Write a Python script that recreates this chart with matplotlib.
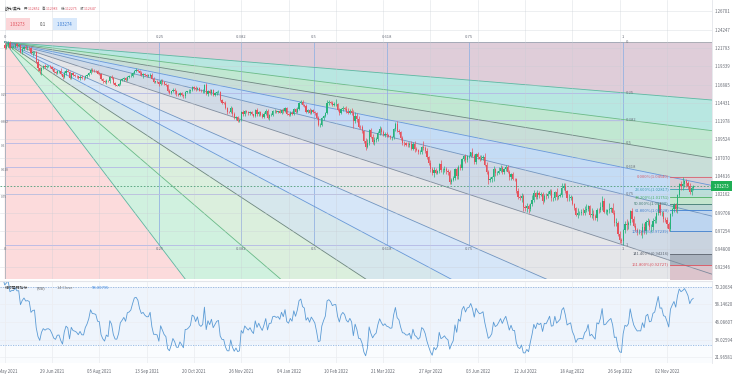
import numpy as np
import pandas as pd
import matplotlib
matplotlib.use("Agg")
import matplotlib.pyplot as plt
from matplotlib.patches import Polygon

plt.rcParams['font.family'] = ['Noto Sans CJK SC', 'DejaVu Sans']

# ---- data: EUR/USD daily, weekdays from 21 May 2021 ----
first_day = '2021-05-21'
# closes before the first shown bar (only used to start the RSI)
warmup_closes = [1.2014, 1.2097, 1.2083, 1.2090, 1.2127, 1.2125, 1.2020, 1.2062, 1.2015, 1.2004, 1.2065,
                 1.2163, 1.2132, 1.2149, 1.2072, 1.2080, 1.2145, 1.2153, 1.2224, 1.2175, 1.2225]
closes = [
    1.2178, 1.2213, 1.2250, 1.2177, 1.2193, 1.2193, 1.2228,
    1.2211, 1.2212, 1.2125, 1.2167, 1.2193, 1.2174, 1.2178, 1.2173, 1.2107, 1.2121, 1.2124, 1.1996, 1.1909, 1.1864, 1.1916, 1.1941, 1.1926, 1.1934, 1.1935, 1.1925, 1.1895, 1.1857,
    1.1846, 1.1865, 1.1866, 1.1823, 1.1791, 1.1845, 1.1875, 1.1863, 1.1776, 1.1838, 1.1812, 1.1807, 1.1799, 1.1780, 1.1795, 1.1771, 1.1770, 1.1801, 1.1817, 1.1842, 1.1888, 1.1870,
    1.1869, 1.1866, 1.1835, 1.1833, 1.1762, 1.1734, 1.1718, 1.1740, 1.1730, 1.1795, 1.1776, 1.1711, 1.1676, 1.1675, 1.1697, 1.1746, 1.1758, 1.1772, 1.1752, 1.1794, 1.1798, 1.1808,
    1.1842, 1.1876, 1.1880, 1.1870, 1.1838, 1.1818, 1.1823, 1.1812, 1.1806, 1.1806, 1.1822, 1.1766, 1.1727, 1.1727, 1.1724, 1.1690, 1.1741, 1.1719, 1.1695, 1.1683, 1.1597, 1.1578,
    1.1596, 1.1620, 1.1598, 1.1555, 1.1553, 1.1571, 1.1552, 1.1528, 1.1594, 1.1595, 1.1601, 1.1610, 1.1652, 1.1647, 1.1624, 1.1643, 1.1607, 1.1599, 1.1606, 1.1681, 1.1558,
    1.1606, 1.1580, 1.1610, 1.1552, 1.1569, 1.1587, 1.1592, 1.1477, 1.1445, 1.1444, 1.1367, 1.1320, 1.1319, 1.1370, 1.1289, 1.1235, 1.1251, 1.1203, 1.1207, 1.1318, 1.1291, 1.1338,
    1.1319, 1.1302, 1.1316, 1.1287, 1.1268, 1.1342, 1.1290, 1.1316, 1.1284, 1.1258, 1.1290, 1.1330, 1.1239, 1.1282, 1.1283, 1.1327, 1.1330, 1.1322, 1.1327, 1.1311, 1.1352, 1.1327, 1.1370,
    1.1297, 1.1286, 1.1313, 1.1296, 1.1359, 1.1326, 1.1366, 1.1440, 1.1454, 1.1412, 1.1404, 1.1326, 1.1343, 1.1311, 1.1343, 1.1325, 1.1304, 1.1242, 1.1143, 1.1147, 1.1234,
    1.1271, 1.1303, 1.1441, 1.1454, 1.1441, 1.1415, 1.1423, 1.1424, 1.1349, 1.1306, 1.1357, 1.1375, 1.1361, 1.1321, 1.1308, 1.1331, 1.1307, 1.1195, 1.1268, 1.1220,
    1.1124, 1.1120, 1.1063, 1.0930, 1.0855, 1.0904, 1.1076, 1.0985, 1.0914, 1.0941, 1.0956, 1.1035, 1.1094, 1.1049, 1.1015, 1.1031, 1.1005, 1.0998, 1.0983, 1.0985, 1.1087, 1.1158, 1.1067,
    1.1047, 1.0970, 1.0904, 1.0900, 1.0878, 1.0877, 1.0888, 1.0826, 1.0890, 1.0826, 1.0808, 1.0780, 1.0790, 1.0852, 1.0838, 1.0797, 1.0714, 1.0640, 1.0558, 1.0497, 1.0545,
    1.0506, 1.0525, 1.0622, 1.0540, 1.0548, 1.0560, 1.0529, 1.0513, 1.0381, 1.0412, 1.0435, 1.0552, 1.0465, 1.0587, 1.0563, 1.0692, 1.0733, 1.0676, 1.0725, 1.0733, 1.0779, 1.0733,
    1.0650, 1.0750, 1.0718, 1.0696, 1.0703, 1.0716, 1.0615, 1.0519, 1.0409, 1.0422, 1.0446, 1.0550, 1.0497, 1.0508, 1.0535, 1.0568, 1.0520, 1.0555, 1.0582, 1.0520, 1.0443, 1.0482,
    1.0426, 1.0424, 1.0266, 1.0183, 1.0162, 1.0187, 1.0040, 1.0037, 1.0061, 1.0018, 1.0082, 1.0143, 1.0229, 1.0178, 1.0229, 1.0211, 1.0223, 1.0130, 1.0200, 1.0195, 1.0225,
    1.0261, 1.0162, 1.0166, 1.0247, 1.0179, 1.0195, 1.0212, 1.0298, 1.0321, 1.0259, 1.0160, 1.0171, 1.0178, 1.0087, 1.0038, 0.9943, 0.9968, 0.9970, 0.9972, 0.9964, 1.0002, 1.0015, 1.0054,
    0.9945, 0.9955, 0.9928, 0.9904, 1.0010, 1.0000, 1.0040, 1.0122, 0.9975, 0.9980, 0.9999, 1.0014, 1.0026, 0.9970, 0.9835, 0.9838, 0.9690, 0.9607, 0.9593, 0.9736, 0.9814, 0.9802,
    0.9826, 0.9988, 0.9887, 0.9793, 0.9742, 0.9704, 0.9706, 0.9704, 0.9778, 0.9720, 0.9840, 0.9858, 0.9773, 0.9780, 0.9862, 0.9876, 0.9967, 1.0079, 0.9963, 0.9966, 0.9882,
    0.9874, 0.9819, 0.9749, 0.9958, 1.0020, 1.0075, 1.0013, 1.0203, 1.0355, 1.0326, 1.0351, 1.0393, 1.0363, 1.0325, 1.0243, 1.0303, 1.0327,
]
# upper / lower wick beyond the body, in pips
wick_hi = [
    18, 16, 16, 22, 14, 20, 10,
    21, 16, 12, 28, 16, 20, 22, 25, 14, 15, 14, 16, 30, 20, 14, 12, 17, 10, 11, 14, 15, 12,
    14, 22, 16, 38, 12, 20, 17, 26, 12, 11, 24, 16, 12, 10, 18, 19, 15, 16, 12, 20, 21, 22,
    23, 12, 16, 20, 9, 12, 14, 17, 15, 10, 18, 12, 16, 11, 12, 13, 20, 14, 18, 13, 16, 38,
    12, 12, 29, 10, 14, 26, 22, 18, 20, 28, 15, 18, 22, 14, 21, 16, 17, 20, 14, 16, 12, 26,
    12, 20, 16, 18, 26, 14, 20, 12, 14, 12, 24, 14, 16, 18, 22, 14, 18, 16, 22, 12, 34,
    12, 28, 20, 16, 14, 12, 24, 14, 12, 10, 18, 14, 16, 26, 15, 28, 20, 16, 14, 20, 30, 12,
    14, 20, 16, 18, 12, 14, 30, 22, 16, 28, 30, 32, 24, 14, 18, 16, 26, 12, 10, 32, 14, 16, 16,
    16, 14, 26, 24, 16, 20, 16, 14, 28, 30, 16, 24, 20, 28, 16, 22, 14, 20, 18, 28, 18,
    14, 20, 40, 30, 16, 20, 26, 70, 20, 22, 14, 20, 18, 36, 58, 30, 36, 40, 52, 34,
    40, 28, 30, 20, 40, 50, 18, 36, 40, 40, 30, 34, 44, 24, 24, 18, 26, 20, 16, 16, 24, 27, 40,
    30, 16, 24, 26, 18, 40, 28, 38, 34, 46, 20, 16, 20, 14, 82, 28, 40, 20, 30, 26, 40,
    22, 16, 18, 50, 20, 30, 20, 20, 34, 28, 22, 14, 30, 20, 34, 10, 14, 30, 20, 10, 8, 54,
    20, 14, 36, 28, 34, 28, 58, 30, 28, 24, 16, 50, 20, 20, 48, 36, 22, 14, 24, 24, 20, 20,
    38, 14, 10, 34, 28, 46, 34, 30, 36, 20, 14, 58, 44, 14, 44, 32, 30, 24, 26, 40, 34,
    32, 30, 20, 8, 50, 16, 26, 70, 45, 42, 10, 48, 30, 16, 12, 12, 60, 26, 44, 62, 55, 65, 25,
    23, 78, 49, 26, 19, 29, 72, 76, 40, 45, 20, 82, 24, 80, 35, 65, 20, 40, 25, 15, 45, 67,
    30, 12, 40, 40, 40, 20, 40, 30, 60, 60, 30, 40, 30, 40, 40, 50, 15, 15, 35, 30, 25,
    25, 35, 20, 10, 13, 25, 20, 15, 10, 40, 103, 10, 25, 28, 40, 20, 15,
]
wick_lo = [
    14, 12, 18, 10, 16, 14, 12,
    14, 20, 16, 22, 20, 14, 18, 16, 12, 30, 18, 14, 36, 32, 42, 14, 16, 22, 14, 18, 12, 14,
    16, 18, 24, 10, 22, 16, 30, 12, 10, 14, 12, 20, 26, 14, 30, 12, 18, 14, 20, 12, 10, 18,
    14, 16, 10, 18, 14, 28, 12, 16, 12, 18, 16, 10, 14, 10, 12, 12, 16, 20, 18, 10, 14, 14,
    16, 18, 20, 14, 16, 12, 36, 14, 16, 22, 18, 10, 24, 14, 16, 20, 12, 20, 14, 20, 14, 16,
    16, 14, 32, 20, 14, 22, 16, 14, 14, 24, 18, 20, 14, 30, 18, 10, 12, 16, 20, 28, 12,
    18, 20, 30, 22, 14, 16, 14, 16, 20, 14, 10, 22, 16, 18, 28, 14, 24, 18, 18, 14, 20, 30,
    14, 20, 22, 14, 10, 18, 20, 18, 24, 20, 18, 14, 10, 26, 16, 20, 14, 14, 16, 10, 18, 24, 12,
    24, 16, 22, 16, 10, 18, 16, 14, 16, 14, 20, 16, 24, 18, 22, 20, 24, 14, 10, 30, 16,
    20, 16, 14, 24, 18, 14, 20, 24, 18, 26, 18, 22, 14, 20, 20, 16, 22, 90, 28, 30,
    20, 30, 28, 30, 50, 24, 30, 18, 20, 34, 24, 30, 20, 28, 16, 26, 20, 20, 20, 36, 22, 16, 18,
    24, 30, 20, 34, 20, 20, 30, 22, 20, 40, 10, 22, 30, 28, 24, 28, 20, 28, 42, 26, 50,
    24, 20, 26, 30, 50, 36, 34, 40, 28, 30, 22, 22, 40, 38, 20, 22, 30, 36, 20, 22, 20, 20,
    30, 32, 22, 28, 26, 30, 20, 30, 60, 30, 42, 48, 34, 22, 20, 22, 26, 28, 20, 20, 40, 32,
    14, 30, 30, 32, 26, 50, 48, 40, 52, 50, 32, 22, 30, 30, 30, 40, 12, 40, 20, 44, 22,
    20, 40, 30, 30, 40, 32, 20, 30, 30, 20, 30, 30, 26, 20, 38, 18, 44, 26, 28, 24, 32, 22, 20,
    36, 40, 55, 28, 40, 30, 24, 40, 10, 25, 45, 40, 35, 15, 40, 40, 35, 40, 30, 57, 45, 60,
    45, 20, 40, 20, 20, 30, 20, 35, 72, 40, 30, 40, 30, 60, 40, 30, 40, 30, 25, 40, 40,
    35, 50, 25, 25, 30, 40, 40, 45, 25, 50, 55, 40, 50, 38, 20, 40, 25,
]

price_ticks = [0.92346, 0.94800, 0.97254, 0.99708, 1.02162, 1.04616, 1.07070, 1.09524,
               1.11978, 1.14431, 1.16885, 1.19339, 1.21793, 1.24247, 1.26701]
rsi_ticks = [21.96581, 34.02594, 46.08607, 58.14620, 70.20634]
date_step = 27

# fan (bar index, price) and retracement anchors
fan_start = (0, 1.2259)
fan_end = (353, 0.9536)
fan_levels = [0, 0.25, 0.382, 0.5, 0.618, 0.75, 1]
fib_start = 380
fib_high = 1.04540
fib_low = 0.97239
fib_levels = [0, 0.236, 0.382, 0.5, 0.618, 1, 1.414, 1.618, 2.618]

last_price = 1.03273
ask_price = 1.03274
rsi_last = '58.00795'
ohlc_hover = ['1.12852', '1.12983', '1.12275', '1.12647']

# ---- figure ----
W, H = 740, 377
fig = plt.figure(figsize=(W / 100, H / 100), dpi=100)
fig.patch.set_facecolor('white')


def rect(x0, y0, x1, y1):
    return [x0 / W, 1 - y1 / H, (x1 - x0) / W, (y1 - y0) / H]


ax = fig.add_axes(rect(0, 0, 712, 279))
axr = fig.add_axes(rect(0, 282, 712, 363), sharex=ax)

n = len(closes)
x = np.arange(n)
c = np.array(closes)
o = np.r_[warmup_closes[-1], c[:-1]]
hi = np.maximum(o, c) + np.array(wick_hi) / 1e4
lo = np.minimum(o, c) - np.array(wick_lo) / 1e4
dates = pd.bdate_range(first_day, periods=n)

xmin, xmax = -2.68, 403.7
ymin, ymax = 0.90803, 1.28219
ax.set_xlim(xmin, xmax)
ax.set_ylim(ymin, ymax)

grid_c = '#eceef2'
tick_pos = list(range(0, n, date_step))
for t in tick_pos:
    ax.axvline(t, color='#c8ccd4', lw=0.5, alpha=0.45, zorder=1.05)
    axr.axvline(t, color=grid_c, lw=0.6, zorder=0.2)
for p in price_ticks:
    ax.axhline(p, color='#c8ccd4', lw=0.5, alpha=0.45, zorder=1.05)

# ---- speed resistance fan ----
fx0, fp0 = fan_start
fx1, fp1 = fan_end
dx, dp = fx1 - fx0, fp1 - fp0
far = 60


def price_dir(f):
    return (dx, 0.0) if f == 0 else (dx, f * dp)


def time_dir(f):
    return (0.0, dp) if f == 0 else (f * dx, dp)


rays = [price_dir(f) for f in fan_levels] + [time_dir(f) for f in fan_levels[::-1][1:]]
ray_levels = fan_levels + fan_levels[::-1][1:]
wedge_colors = ['#dfcdd9', '#b8e7e1', '#c1e8d2', '#c8ded8', '#c4dcf5', '#d0dae6',
                '#e5e6e9', '#d6e6f8', '#d6e7ec', '#dbefdd', '#d0f1df', '#fcdbdc']
level_colors = {0: '#a3a8b0', 0.25: '#5bb5a0', 0.382: '#66b985', 0.5: '#6b857e',
                0.618: '#6596d8', 0.75: '#6f93bf', 1: '#7d8a9c'}

for i, col in enumerate(wedge_colors):
    a, b = rays[i], rays[i + 1]
    pts = [(fx0, fp0), (fx0 + far * a[0], fp0 + far * a[1]), (fx0 + far * b[0], fp0 + far * b[1])]
    ax.add_patch(Polygon(pts, closed=True, facecolor=col, edgecolor='none', zorder=0.1))
for d, lv in zip(rays, ray_levels):
    ax.plot([fx0, fx0 + far * d[0]], [fp0, fp0 + far * d[1]], color=level_colors[lv], lw=0.6, zorder=1)

for f in fan_levels:
    py = fp0 + f * dp
    tx = fx0 + f * dx
    ax.plot([fx0, fx1], [py, py], color='#b4b8e6', lw=0.6, zorder=0.9)
    ax.plot([tx, tx], [fp1, fp0], color='#95b3e2', lw=0.6, zorder=0.9)
    lab = f'{f:g}'
    ax.text(fx1 + 1.3, py, lab, fontsize=3, color='#6b707c', ha='left', va='center', zorder=3)
    if 0 < f < 1:
        ax.text(xmin + 0.3, py - 0.0035, lab, fontsize=2.3, color='#6b707c', ha='left', va='center',
                zorder=3)
    ax.text(tx, fp0 + 0.0068, lab, fontsize=3, color='#6b707c', ha='center', va='center', zorder=3)
    ax.text(tx, fp1 - 0.0055, lab, fontsize=3, color='#6b707c', ha='center', va='center', zorder=3)

# ---- fib retracement on the last swing ----
rng = fib_high - fib_low
fib_prices = [fib_high - lv * rng for lv in fib_levels]
band_colors = ['#d6cfd7', '#bbdfd9', '#c3e6ce', '#bdd8d5', '#bdd5f0', '#c9d3df', '#aab3bf', '#dcc4cc']
fib_line_colors = ['#d9606c', '#3f9fb0', '#4caf62', '#3f7a70', '#3f7fd0', '#3f7fd0', '#5d6570', '#d9505c', '#d9505c']
for i, col in enumerate(band_colors):
    ax.fill_between([fib_start, xmax + 5], fib_prices[i + 1], fib_prices[i], color=col, lw=0, zorder=0.95)
for lv, p, col in zip(fib_levels[:-1], fib_prices[:-1], fib_line_colors):
    ax.plot([fib_start, xmax + 5], [p, p], color=col, lw=0.6, zorder=1.1)
    ax.text(fib_start - 0.8, p, f'{lv * 100:.3f}%({p:.5f})', fontsize=3, color=col,
            ha='right', va='center', zorder=3)

# ---- candles ----
up = c >= o
cols = np.where(up, '#27b27b', '#e5525d')
ax.vlines(x, lo, hi, colors=cols, lw=0.5, zorder=2)
body = np.maximum(np.abs(c - o), 0.0004)
ax.bar(x, body, bottom=np.minimum(o, c), width=0.7, color=cols, lw=0, zorder=2.1)

ax.axhline(last_price, color='#4e9e78', lw=0.6, ls=(0, (2, 2)), zorder=1.5)

# ---- axes styling ----
ax.yaxis.tick_right()
ax.set_yticks(price_ticks)
ax.set_yticklabels([f'{p:.5f}' for p in price_ticks])
ax.tick_params(axis='y', length=0, labelsize=3.1, labelcolor='#666a73', pad=2)
ax.tick_params(axis='x', length=0, labelbottom=False)
for s in ax.spines.values():
    s.set_visible(False)
ax.spines['right'].set_visible(True)
ax.spines['right'].set_color('#e3e5ea')
ax.spines['right'].set_linewidth(0.6)

# ---- RSI ----
all_close = pd.Series(warmup_closes + closes)
delta = all_close.diff()
gain = delta.clip(lower=0).ewm(alpha=1 / 14, adjust=False).mean()
loss = (-delta.clip(upper=0)).ewm(alpha=1 / 14, adjust=False).mean()
rsi = (100 - 100 / (1 + gain / loss)).to_numpy()
rsi_x = np.arange(len(all_close)) - len(warmup_closes)

axr.set_facecolor('#fafcfe')
axr.axhspan(30, 70, color='#eef4fc', lw=0, zorder=0.1)
axr.axhline(70, color='#8fb5e3', lw=0.6, ls=(0, (1.5, 1.5)), zorder=0.5)
axr.axhline(30, color='#8fb5e3', lw=0.6, ls=(0, (1.5, 1.5)), zorder=0.5)
for r in rsi_ticks:
    axr.axhline(r, color=grid_c, lw=0.5, zorder=0.2)
axr.plot(rsi_x, rsi, color='#5b9bd5', lw=0.6, zorder=2)
axr.set_ylim(17.89, 73.60)
axr.set_xlim(xmin, xmax)
axr.yaxis.tick_right()
axr.set_yticks(rsi_ticks)
axr.set_yticklabels([f'{r:.5f}' for r in rsi_ticks])
axr.set_xticks(tick_pos)
axr.set_xticklabels([dates[t].strftime('%d %b %Y') for t in tick_pos])
axr.tick_params(axis='y', length=0, labelsize=3.1, labelcolor='#666a73', pad=2)
axr.tick_params(axis='x', length=0, labelsize=3.1, labelcolor='#666a73', pad=4.6)
for s in axr.spines.values():
    s.set_visible(False)
axr.spines['right'].set_visible(True)
axr.spines['right'].set_color('#e3e5ea')
axr.spines['right'].set_linewidth(0.6)
fig.add_artist(plt.Line2D([0, 712 / W], [1 - 280.5 / H, 1 - 280.5 / H], color='#e3e5ea', lw=0.8))


# ---- header / labels ----
def ftext(px, py, s, **kw):
    fig.text(px / W, 1 - py / H, s, va='center', **kw)


ftext(5, 9, '欧元/美元', fontsize=2.7, color='#333333')
for lab, val, px in zip(['开', '高', '低', '收'], ohlc_hover, [24, 42, 61, 80]):
    ftext(px, 9, lab, fontsize=2.5, color='#555555')
    ftext(px + 4, 9, val, fontsize=2.5, color='#e05565')
ftext(10, 24, f'{last_price:.5f}', fontsize=3.1, color='#e0505b',
      bbox=dict(boxstyle='square,pad=0.9', fc='#fbd6d9', ec='none'))
ftext(40, 24, '0.1', fontsize=3.1, color='#444444')
ftext(57, 24, f'{ask_price:.5f}', fontsize=3.1, color='#3a7bd0',
      bbox=dict(boxstyle='square,pad=0.9', fc='#d9e9fb', ec='none'))
ftext(714, 186, f'{last_price:.5f}', fontsize=3.1, color='white',
      bbox=dict(boxstyle='square,pad=0.6', fc='#1fae55', ec='none'))

ftext(5, 288, '相对强弱指标', fontsize=2.8, color='#444444')
ftext(37, 288, '(RSI)', fontsize=2.8, color='#555555')
ftext(57, 288, '14 Close', fontsize=2.8, color='#777777')
ftext(92, 288, rsi_last, fontsize=3, color='#3a86e0')

fig.savefig('out.png', dpi=100, facecolor='white')
